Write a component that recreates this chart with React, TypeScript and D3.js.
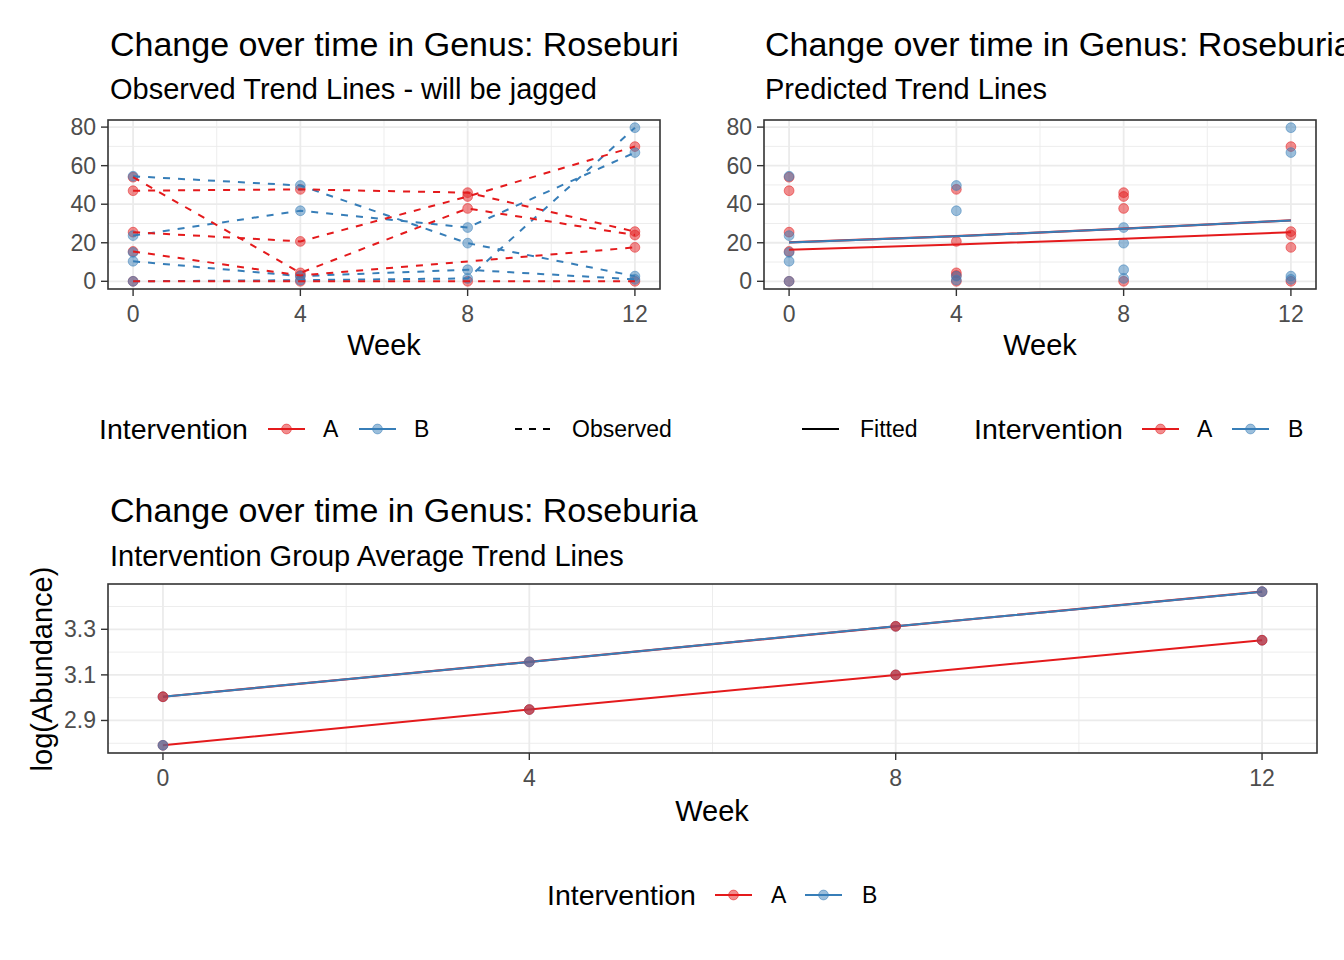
import React from 'react';
import * as d3 from 'd3';

// ---------------- data ----------------
const weeks = [0, 4, 8, 12];
// observed abundance per subject (null = missing visit)
const observedA: (number | null)[][] = [
  [54, 4.4, 37.8, 24],
  [47, 47.7, 46, 25.8],
  [25.5, 20.7, 44, 69.9],
  [15.5, 3, null, 17.6],
  [0, 0, 0, 0],
];
const observedB: (number | null)[][] = [
  [54.5, 49.7, 19.8, 2.7],
  [23.7, 36.6, 27.9, 66.8],
  [10.4, 2.7, 6, 1],
  [0, 0.6, 1.5, 79.7],
  [15, null, null, null],
];
const predictedA = [16.4, 19.1, 22.1, 25.5];
const predictedB = [20.2, 23.4, 27.3, 31.6];
const avgLogA = [2.791, 2.948, 3.1, 3.252];
const avgLogB = [3.004, 3.157, 3.313, 3.465];
// which group's point is drawn on top at each week (bottom panel)
const upperTop = ['A', 'B', 'A', 'B'];
const lowerTop = ['B', 'A', 'A', 'A'];

const xTicks = [0, 4, 8, 12];
const xMinor = [2, 6, 10];
const yTicksTop = [0, 20, 40, 60, 80];
const yMinorTop = [10, 30, 50, 70];
const yTicksBottom = [2.9, 3.1, 3.3];
const yMinorBottom = [2.8, 3.0, 3.2, 3.4];

// ---------------- style ----------------
const FONT = "'Liberation Sans', Arial, Helvetica, sans-serif";
const RED = '#E41A1C';
const BLUE = '#377EB8';
const COL: Record<string, string> = { A: RED, B: BLUE };
const GRID = '#EBEBEB';
const DARK = '#333333';
const TICKTXT = '#4D4D4D';
const DASH = '7 8';

function expand(vals: number[]): [number, number] {
  const [mn, mx] = d3.extent(vals) as [number, number];
  const p = (mx - mn) * 0.05;
  return [mn - p, mx + p];
}

const allObs = [...observedA, ...observedB].flat().filter((v) => v != null) as number[];
const topDomain = expand(allObs);
const botDomain = expand([...avgLogA, ...avgLogB]);
const xDomain = expand(weeks);

type PanelProps = {
  left: number; right: number; top: number; bottom: number;
  yDomain: [number, number]; yTicks: number[]; yMinor: number[];
  yFmt: (v: number) => string;
  children: (x: d3.ScaleLinear<number, number>, y: d3.ScaleLinear<number, number>) => React.ReactNode;
};

function Panel({ left, right, top, bottom, yDomain, yTicks, yMinor, yFmt, children }: PanelProps) {
  const x = d3.scaleLinear().domain(xDomain).range([left, right]);
  const y = d3.scaleLinear().domain(yDomain).range([bottom, top]);
  const clipId = `clip-${left}-${top}`;
  return (
    <g>
      <defs>
        <clipPath id={clipId}>
          <rect x={left} y={top} width={right - left} height={bottom - top} />
        </clipPath>
      </defs>
      <rect x={left} y={top} width={right - left} height={bottom - top} fill="white" />
      {xMinor.map((t) => (
        <line key={'xm' + t} x1={x(t)} x2={x(t)} y1={top} y2={bottom} stroke={GRID} strokeWidth={0.9} />
      ))}
      {yMinor.map((t) => (
        <line key={'ym' + t} x1={left} x2={right} y1={y(t)} y2={y(t)} stroke={GRID} strokeWidth={0.9} />
      ))}
      {xTicks.map((t) => (
        <line key={'xM' + t} x1={x(t)} x2={x(t)} y1={top} y2={bottom} stroke={GRID} strokeWidth={1.8} />
      ))}
      {yTicks.map((t) => (
        <line key={'yM' + t} x1={left} x2={right} y1={y(t)} y2={y(t)} stroke={GRID} strokeWidth={1.8} />
      ))}
      <g clipPath={`url(#${clipId})`}>{children(x, y)}</g>
      <rect x={left} y={top} width={right - left} height={bottom - top} fill="none" stroke={DARK} strokeWidth={1.6} />
      {xTicks.map((t) => (
        <g key={'xt' + t}>
          <line x1={x(t)} x2={x(t)} y1={bottom} y2={bottom + 7} stroke={DARK} strokeWidth={1.4} />
          <text x={x(t)} y={bottom + 33} textAnchor="middle" fontSize={23} fill={TICKTXT} fontFamily={FONT}>
            {t}
          </text>
        </g>
      ))}
      {yTicks.map((t) => (
        <g key={'yt' + t}>
          <line x1={left - 7} x2={left} y1={y(t)} y2={y(t)} stroke={DARK} strokeWidth={1.4} />
          <text x={left - 12} y={y(t) + 8} textAnchor="end" fontSize={23} fill={TICKTXT} fontFamily={FONT}>
            {yFmt(t)}
          </text>
        </g>
      ))}
    </g>
  );
}

function Pt({ cx, cy, color, op = 0.5 }: { cx: number; cy: number; color: string; op?: number }) {
  return (
    <circle cx={cx} cy={cy} r={4.9} fill={color} fillOpacity={op} stroke={color} strokeOpacity={op} strokeWidth={1} />
  );
}

function subjectPoints(rows: (number | null)[][]) {
  return rows.map((r) =>
    r.map((v, i) => ({ w: weeks[i], v })).filter((d) => d.v != null) as { w: number; v: number }[]
  );
}

function LegendKey({ x, y, color, dashed, point }: { x: number; y: number; color: string; dashed?: boolean; point?: boolean }) {
  return (
    <g>
      <line x1={x} x2={x + 37} y1={y} y2={y} stroke={color} strokeWidth={2} strokeDasharray={dashed ? '7 7' : undefined} />
      {point && <Pt cx={x + 18.5} cy={y} color={color} />}
    </g>
  );
}

function LegendText({ x, y, children, title }: { x: number; y: number; children: React.ReactNode; title?: boolean }) {
  return (
    <text x={x} y={title ? y + 10 : y + 8} fontSize={title ? 28.5 : 23} fontFamily={FONT} fill="black">
      {children}
    </text>
  );
}

export default function App() {
  const subA = subjectPoints(observedA);
  const subB = subjectPoints(observedB);
  return (
    <svg
      width={1344}
      height={960}
      viewBox="0 0 1344 960"
      style={{ position: 'absolute', left: 0, top: 0, display: 'block', background: 'white' }}
      fontFamily={FONT}
    >
      <defs>
        <clipPath id="leftTitleClip">
          <rect x={0} y={0} width={680} height={470} />
        </clipPath>
      </defs>
      <rect x={0} y={0} width={1344} height={960} fill="white" />

      {/* ---------- top-left: observed ---------- */}
      <g clipPath="url(#leftTitleClip)">
        <text x={110} y={56} fontSize={34} fill="black">Change over time in Genus: Roseburia</text>
      </g>
      <text x={110} y={99} fontSize={29} fill="black">Observed Trend Lines - will be jagged</text>
      <Panel left={108} right={660} top={120} bottom={289} yDomain={topDomain} yTicks={yTicksTop} yMinor={yMinorTop} yFmt={(v) => String(v)}>
        {(x, y) => {
          const line = d3.line<{ w: number; v: number }>().x((d) => x(d.w)).y((d) => y(d.v));
          return (
            <g>
              {subA.map((s, i) => s.map((d, j) => <Pt key={`a${i}-${j}`} cx={x(d.w)} cy={y(d.v)} color={RED} />))}
              {subB.map((s, i) => s.map((d, j) => <Pt key={`b${i}-${j}`} cx={x(d.w)} cy={y(d.v)} color={BLUE} />))}
              {subB.map((s, i) => (
                <path key={'lb' + i} d={line(s) || ''} fill="none" stroke={BLUE} strokeWidth={2} strokeDasharray={DASH} />
              ))}
              {subA.map((s, i) => (
                <path key={'la' + i} d={line(s) || ''} fill="none" stroke={RED} strokeWidth={2} strokeDasharray={DASH} />
              ))}
            </g>
          );
        }}
      </Panel>
      <text x={384} y={355} textAnchor="middle" fontSize={29} fill="black">Week</text>

      {/* ---------- top-right: predicted ---------- */}
      <text x={765} y={56} fontSize={34} fill="black">Change over time in Genus: Roseburia</text>
      <text x={765} y={99} fontSize={29} fill="black">Predicted Trend Lines</text>
      <Panel left={764} right={1316} top={120} bottom={289} yDomain={topDomain} yTicks={yTicksTop} yMinor={yMinorTop} yFmt={(v) => String(v)}>
        {(x, y) => {
          const line = d3.line<number>().x((_, i) => x(weeks[i])).y((d) => y(d));
          return (
            <g>
              {subA.map((s, i) => s.map((d, j) => <Pt key={`a${i}-${j}`} cx={x(d.w)} cy={y(d.v)} color={RED} />))}
              {subB.map((s, i) => s.map((d, j) => <Pt key={`b${i}-${j}`} cx={x(d.w)} cy={y(d.v)} color={BLUE} />))}
              <path d={line(predictedB) || ''} fill="none" stroke={RED} strokeWidth={2.2} />
              <path d={line(predictedB) || ''} fill="none" stroke={BLUE} strokeWidth={2} />
              <path d={line(predictedA) || ''} fill="none" stroke={RED} strokeWidth={2} />
            </g>
          );
        }}
      </Panel>
      <text x={1040} y={355} textAnchor="middle" fontSize={29} fill="black">Week</text>

      {/* ---------- top legends ---------- */}
      <LegendText x={99} y={429} title>Intervention</LegendText>
      <LegendKey x={268} y={429} color={RED} point />
      <LegendText x={323} y={429}>A</LegendText>
      <LegendKey x={359} y={429} color={BLUE} point />
      <LegendText x={414} y={429}>B</LegendText>
      <LegendKey x={515} y={429} color="black" dashed />
      <LegendText x={572} y={429}>Observed</LegendText>

      <LegendKey x={802} y={429} color="black" />
      <LegendText x={860} y={429}>Fitted</LegendText>
      <LegendText x={974} y={429} title>Intervention</LegendText>
      <LegendKey x={1142} y={429} color={RED} point />
      <LegendText x={1197} y={429}>A</LegendText>
      <LegendKey x={1232} y={429} color={BLUE} point />
      <LegendText x={1288} y={429}>B</LegendText>

      {/* ---------- bottom: group averages ---------- */}
      <text x={110} y={522} fontSize={34} fill="black">Change over time in Genus: Roseburia</text>
      <text x={110} y={566} fontSize={29} fill="black">Intervention Group Average Trend Lines</text>
      <Panel left={108} right={1317} top={584} bottom={753} yDomain={botDomain} yTicks={yTicksBottom} yMinor={yMinorBottom} yFmt={(v) => v.toFixed(1)}>
        {(x, y) => {
          const line = d3.line<number>().x((_, i) => x(weeks[i])).y((d) => y(d));
          const stack = (vals: number[], topSeq: string[]) =>
            vals.map((v, i) => {
              const topG = topSeq[i];
              const under = topG === 'A' ? 'B' : 'A';
              return (
                <g key={i}>
                  <Pt cx={x(weeks[i])} cy={y(v)} color={COL[under]} op={0.6} />
                  <Pt cx={x(weeks[i])} cy={y(v)} color={COL[topG]} op={0.6} />
                </g>
              );
            });
          return (
            <g>
              <path d={line(avgLogB) || ''} fill="none" stroke={RED} strokeWidth={2.2} />
              <path d={line(avgLogB) || ''} fill="none" stroke={BLUE} strokeWidth={2} />
              <path d={line(avgLogA) || ''} fill="none" stroke={RED} strokeWidth={2} />
              {stack(avgLogB, upperTop)}
              {stack(avgLogA, lowerTop)}
            </g>
          );
        }}
      </Panel>
      <text x={712} y={821} textAnchor="middle" fontSize={29} fill="black">Week</text>
      <text transform="translate(52,669) rotate(-90)" textAnchor="middle" fontSize={29} fill="black">log(Abundance)</text>

      {/* ---------- bottom legend ---------- */}
      <LegendText x={547} y={895} title>Intervention</LegendText>
      <LegendKey x={715} y={895} color={RED} point />
      <LegendText x={771} y={895}>A</LegendText>
      <LegendKey x={805} y={895} color={BLUE} point />
      <LegendText x={862} y={895}>B</LegendText>
    </svg>
  );
}
